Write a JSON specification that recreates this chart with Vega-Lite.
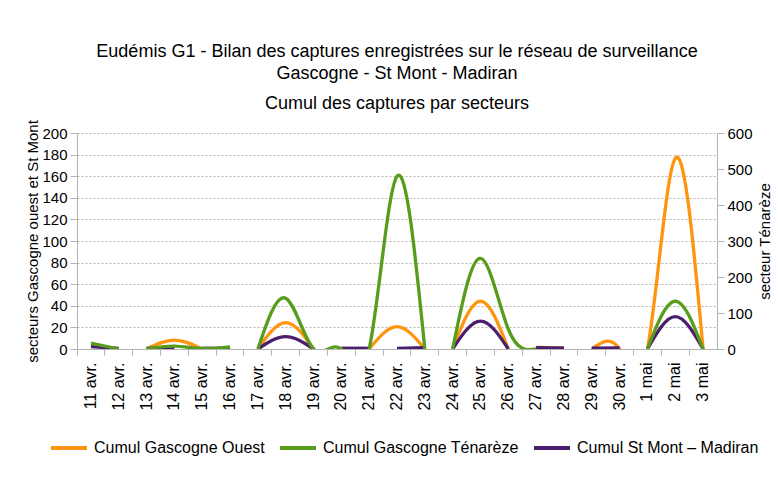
{
  "$schema": "https://vega.github.io/schema/vega-lite/v6.json",
  "width": 640,
  "height": 216,
  "autosize": {"type": "none"},
  "padding": {"left": 77, "top": 133, "right": 61, "bottom": 142},
  "background": "white",
  "config": {
    "font": "Liberation Sans",
    "view": {"stroke": null},
    "axis": {
      "labelFont": "Liberation Sans", "labelFontSize": 15, "labelColor": "#000000",
      "titleFont": "Liberation Sans", "titleFontSize": 15, "titleFontWeight": "normal", "titleColor": "#000000",
      "domainColor": "#b3b3b3", "tickColor": "#b3b3b3", "gridColor": "#b3b3b3", "gridDash": [2, 2]
    }
  },
  "title": {
    "text": ["Eudémis G1 - Bilan des captures enregistrées sur le réseau de surveillance", "Gascogne - St Mont - Madiran"],
    "subtitle": "Cumul des captures par secteurs",
    "anchor": "middle",
    "font": "Liberation Sans", "fontSize": 18, "fontWeight": "normal", "color": "#000000",
    "subtitleFont": "Liberation Sans", "subtitleFontSize": 18, "subtitleColor": "#000000",
    "lineHeight": 22, "subtitleLineHeight": 20, "subtitlePadding": 12, "offset": 7
  },
  "datasets": {
    "left": [
      {"d": "13 avr.", "s": "Cumul Gascogne Ouest", "g": "o1", "v": 0},
      {"d": "14 avr.", "s": "Cumul Gascogne Ouest", "g": "o1", "v": 8.3},
      {"d": "15 avr.", "s": "Cumul Gascogne Ouest", "g": "o1", "v": 0},
      {"d": "17 avr.", "s": "Cumul Gascogne Ouest", "g": "o2", "v": 0},
      {"d": "18 avr.", "s": "Cumul Gascogne Ouest", "g": "o2", "v": 24.4},
      {"d": "19 avr.", "s": "Cumul Gascogne Ouest", "g": "o2", "v": 0},
      {"d": "21 avr.", "s": "Cumul Gascogne Ouest", "g": "o3", "v": 0},
      {"d": "22 avr.", "s": "Cumul Gascogne Ouest", "g": "o3", "v": 20.7},
      {"d": "23 avr.", "s": "Cumul Gascogne Ouest", "g": "o3", "v": 0},
      {"d": "24 avr.", "s": "Cumul Gascogne Ouest", "g": "o4", "v": 0},
      {"d": "25 avr.", "s": "Cumul Gascogne Ouest", "g": "o4", "v": 44.4},
      {"d": "26 avr.", "s": "Cumul Gascogne Ouest", "g": "o4", "v": 0},
      {"d": "27 avr.", "s": "Cumul Gascogne Ouest", "g": "o5", "v": 1.5},
      {"d": "28 avr.", "s": "Cumul Gascogne Ouest", "g": "o5", "v": 1},
      {"d": "29 avr.", "s": "Cumul Gascogne Ouest", "g": "o6", "v": 0},
      {"d": "30 avr.", "s": "Cumul Gascogne Ouest", "g": "o6", "v": 0},
      {"d": "1 mai", "s": "Cumul Gascogne Ouest", "g": "o6", "v": 0},
      {"d": "2 mai", "s": "Cumul Gascogne Ouest", "g": "o6", "v": 176.5},
      {"d": "3 mai", "s": "Cumul Gascogne Ouest", "g": "o6", "v": 0},
      {"d": "11 avr.", "s": "Cumul St Mont – Madiran", "g": "p1", "v": 2.2},
      {"d": "12 avr.", "s": "Cumul St Mont – Madiran", "g": "p1", "v": 0.5},
      {"d": "13 avr.", "s": "Cumul St Mont – Madiran", "g": "p2", "v": 0.7},
      {"d": "14 avr.", "s": "Cumul St Mont – Madiran", "g": "p2", "v": 0.7},
      {"d": "15 avr.", "s": "Cumul St Mont – Madiran", "g": "p3", "v": 0.7},
      {"d": "16 avr.", "s": "Cumul St Mont – Madiran", "g": "p3", "v": 0.7},
      {"d": "17 avr.", "s": "Cumul St Mont – Madiran", "g": "p4", "v": 0},
      {"d": "18 avr.", "s": "Cumul St Mont – Madiran", "g": "p4", "v": 11.4},
      {"d": "19 avr.", "s": "Cumul St Mont – Madiran", "g": "p4", "v": 0},
      {"d": "20 avr.", "s": "Cumul St Mont – Madiran", "g": "p5", "v": 0.7},
      {"d": "21 avr.", "s": "Cumul St Mont – Madiran", "g": "p5", "v": 0.7},
      {"d": "22 avr.", "s": "Cumul St Mont – Madiran", "g": "p6", "v": 0.5},
      {"d": "23 avr.", "s": "Cumul St Mont – Madiran", "g": "p6", "v": 1.2},
      {"d": "24 avr.", "s": "Cumul St Mont – Madiran", "g": "p7", "v": 0},
      {"d": "25 avr.", "s": "Cumul St Mont – Madiran", "g": "p7", "v": 25.9},
      {"d": "26 avr.", "s": "Cumul St Mont – Madiran", "g": "p7", "v": 0},
      {"d": "27 avr.", "s": "Cumul St Mont – Madiran", "g": "p8", "v": 1.2},
      {"d": "28 avr.", "s": "Cumul St Mont – Madiran", "g": "p8", "v": 0.7},
      {"d": "29 avr.", "s": "Cumul St Mont – Madiran", "g": "p9", "v": 0.7},
      {"d": "30 avr.", "s": "Cumul St Mont – Madiran", "g": "p9", "v": 1},
      {"d": "1 mai", "s": "Cumul St Mont – Madiran", "g": "p10", "v": 0},
      {"d": "2 mai", "s": "Cumul St Mont – Madiran", "g": "p10", "v": 29.9},
      {"d": "3 mai", "s": "Cumul St Mont – Madiran", "g": "p10", "v": 0}
    ],
    "right": [
      {"d": "11 avr.", "s": "Cumul Gascogne Ténarèze", "g": "g1", "v": 16},
      {"d": "12 avr.", "s": "Cumul Gascogne Ténarèze", "g": "g1", "v": 0},
      {"d": "13 avr.", "s": "Cumul Gascogne Ténarèze", "g": "g2", "v": 0},
      {"d": "14 avr.", "s": "Cumul Gascogne Ténarèze", "g": "g2", "v": 8},
      {"d": "15 avr.", "s": "Cumul Gascogne Ténarèze", "g": "g2", "v": 1},
      {"d": "16 avr.", "s": "Cumul Gascogne Ténarèze", "g": "g2", "v": 6},
      {"d": "17 avr.", "s": "Cumul Gascogne Ténarèze", "g": "g3", "v": 0},
      {"d": "18 avr.", "s": "Cumul Gascogne Ténarèze", "g": "g3", "v": 141},
      {"d": "19 avr.", "s": "Cumul Gascogne Ténarèze", "g": "g3", "v": 0},
      {"d": "20 avr.", "s": "Cumul Gascogne Ténarèze", "g": "g3", "v": 0},
      {"d": "21 avr.", "s": "Cumul Gascogne Ténarèze", "g": "g3", "v": 0},
      {"d": "22 avr.", "s": "Cumul Gascogne Ténarèze", "g": "g3", "v": 480},
      {"d": "23 avr.", "s": "Cumul Gascogne Ténarèze", "g": "g3", "v": 0},
      {"d": "24 avr.", "s": "Cumul Gascogne Ténarèze", "g": "g4", "v": 0},
      {"d": "25 avr.", "s": "Cumul Gascogne Ténarèze", "g": "g4", "v": 252},
      {"d": "26 avr.", "s": "Cumul Gascogne Ténarèze", "g": "g4", "v": 55},
      {"d": "27 avr.", "s": "Cumul Gascogne Ténarèze", "g": "g4", "v": 0},
      {"d": "1 mai", "s": "Cumul Gascogne Ténarèze", "g": "g5", "v": 0},
      {"d": "2 mai", "s": "Cumul Gascogne Ténarèze", "g": "g5", "v": 133},
      {"d": "3 mai", "s": "Cumul Gascogne Ténarèze", "g": "g5", "v": 0}
    ]
  },
  "layer": [
    {
      "data": {"name": "left"},
      "mark": {"type": "line", "interpolate": "natural", "strokeWidth": 3.3, "clip": true},
      "encoding": {
        "x": {
          "field": "d", "type": "ordinal", "bandPosition": 0.5,
          "scale": {"type": "band", "paddingInner": 0, "paddingOuter": 0,
            "domain": ["11 avr.","12 avr.","13 avr.","14 avr.","15 avr.","16 avr.","17 avr.","18 avr.","19 avr.","20 avr.","21 avr.","22 avr.","23 avr.","24 avr.","25 avr.","26 avr.","27 avr.","28 avr.","29 avr.","30 avr.","1 mai","2 mai","3 mai"]},
          "axis": {"orient": "bottom", "title": null, "labelAngle": 270, "labelFontSize": 16, "ticks": false, "domain": false, "grid": false, "labelPadding": 13}
        },
        "y": {
          "field": "v", "type": "quantitative",
          "scale": {"domain": [0, 200], "nice": false},
          "axis": {"orient": "left", "title": "secteurs Gascogne ouest et St Mont", "values": [0,20,40,60,80,100,120,140,160,180,200], "grid": true, "tickSize": 7, "labelPadding": 3, "titlePadding": 1}
        },
        "color": {
          "field": "s", "type": "nominal",
          "scale": {"domain": ["Cumul Gascogne Ouest", "Cumul Gascogne Ténarèze", "Cumul St Mont – Madiran"], "range": ["#ff950e", "#579d1c", "#4b1f6f"]},
          "legend": {"orient": "none", "legendX": -28, "legendY": 295, "direction": "horizontal", "columns": 3, "title": null,
            "symbolType": "stroke", "symbolSize": 1296, "symbolStrokeWidth": 4, "labelFont": "Liberation Sans", "labelFontSize": 16, "labelColor": "#000000", "labelLimit": 300, "columnPadding": 7, "labelOffset": 5}
        },
        "detail": {"field": "g"}
      }
    },
    {
      "data": {"name": "right"},
      "mark": {"type": "line", "interpolate": "natural", "strokeWidth": 3.3, "clip": true},
      "encoding": {
        "x": {
          "field": "d", "type": "ordinal", "bandPosition": 0.5,
          "axis": {"orient": "bottom", "title": null, "labels": false, "ticks": true, "tickSize": 6, "bandPosition": 0, "domain": true, "grid": false}
        },
        "y": {
          "field": "v", "type": "quantitative",
          "scale": {"domain": [0, 600], "nice": false},
          "axis": {"orient": "right", "title": "secteur Ténarèze", "titleAngle": 270, "titleBaseline": "bottom", "values": [0,100,200,300,400,500,600], "grid": false, "tickSize": 7, "labelPadding": 3, "titlePadding": 20}
        },
        "color": {"field": "s", "type": "nominal"},
        "detail": {"field": "g"}
      }
    }
  ],
  "resolve": {"scale": {"y": "independent"}, "axis": {"x": "independent", "y": "independent"}}
}
